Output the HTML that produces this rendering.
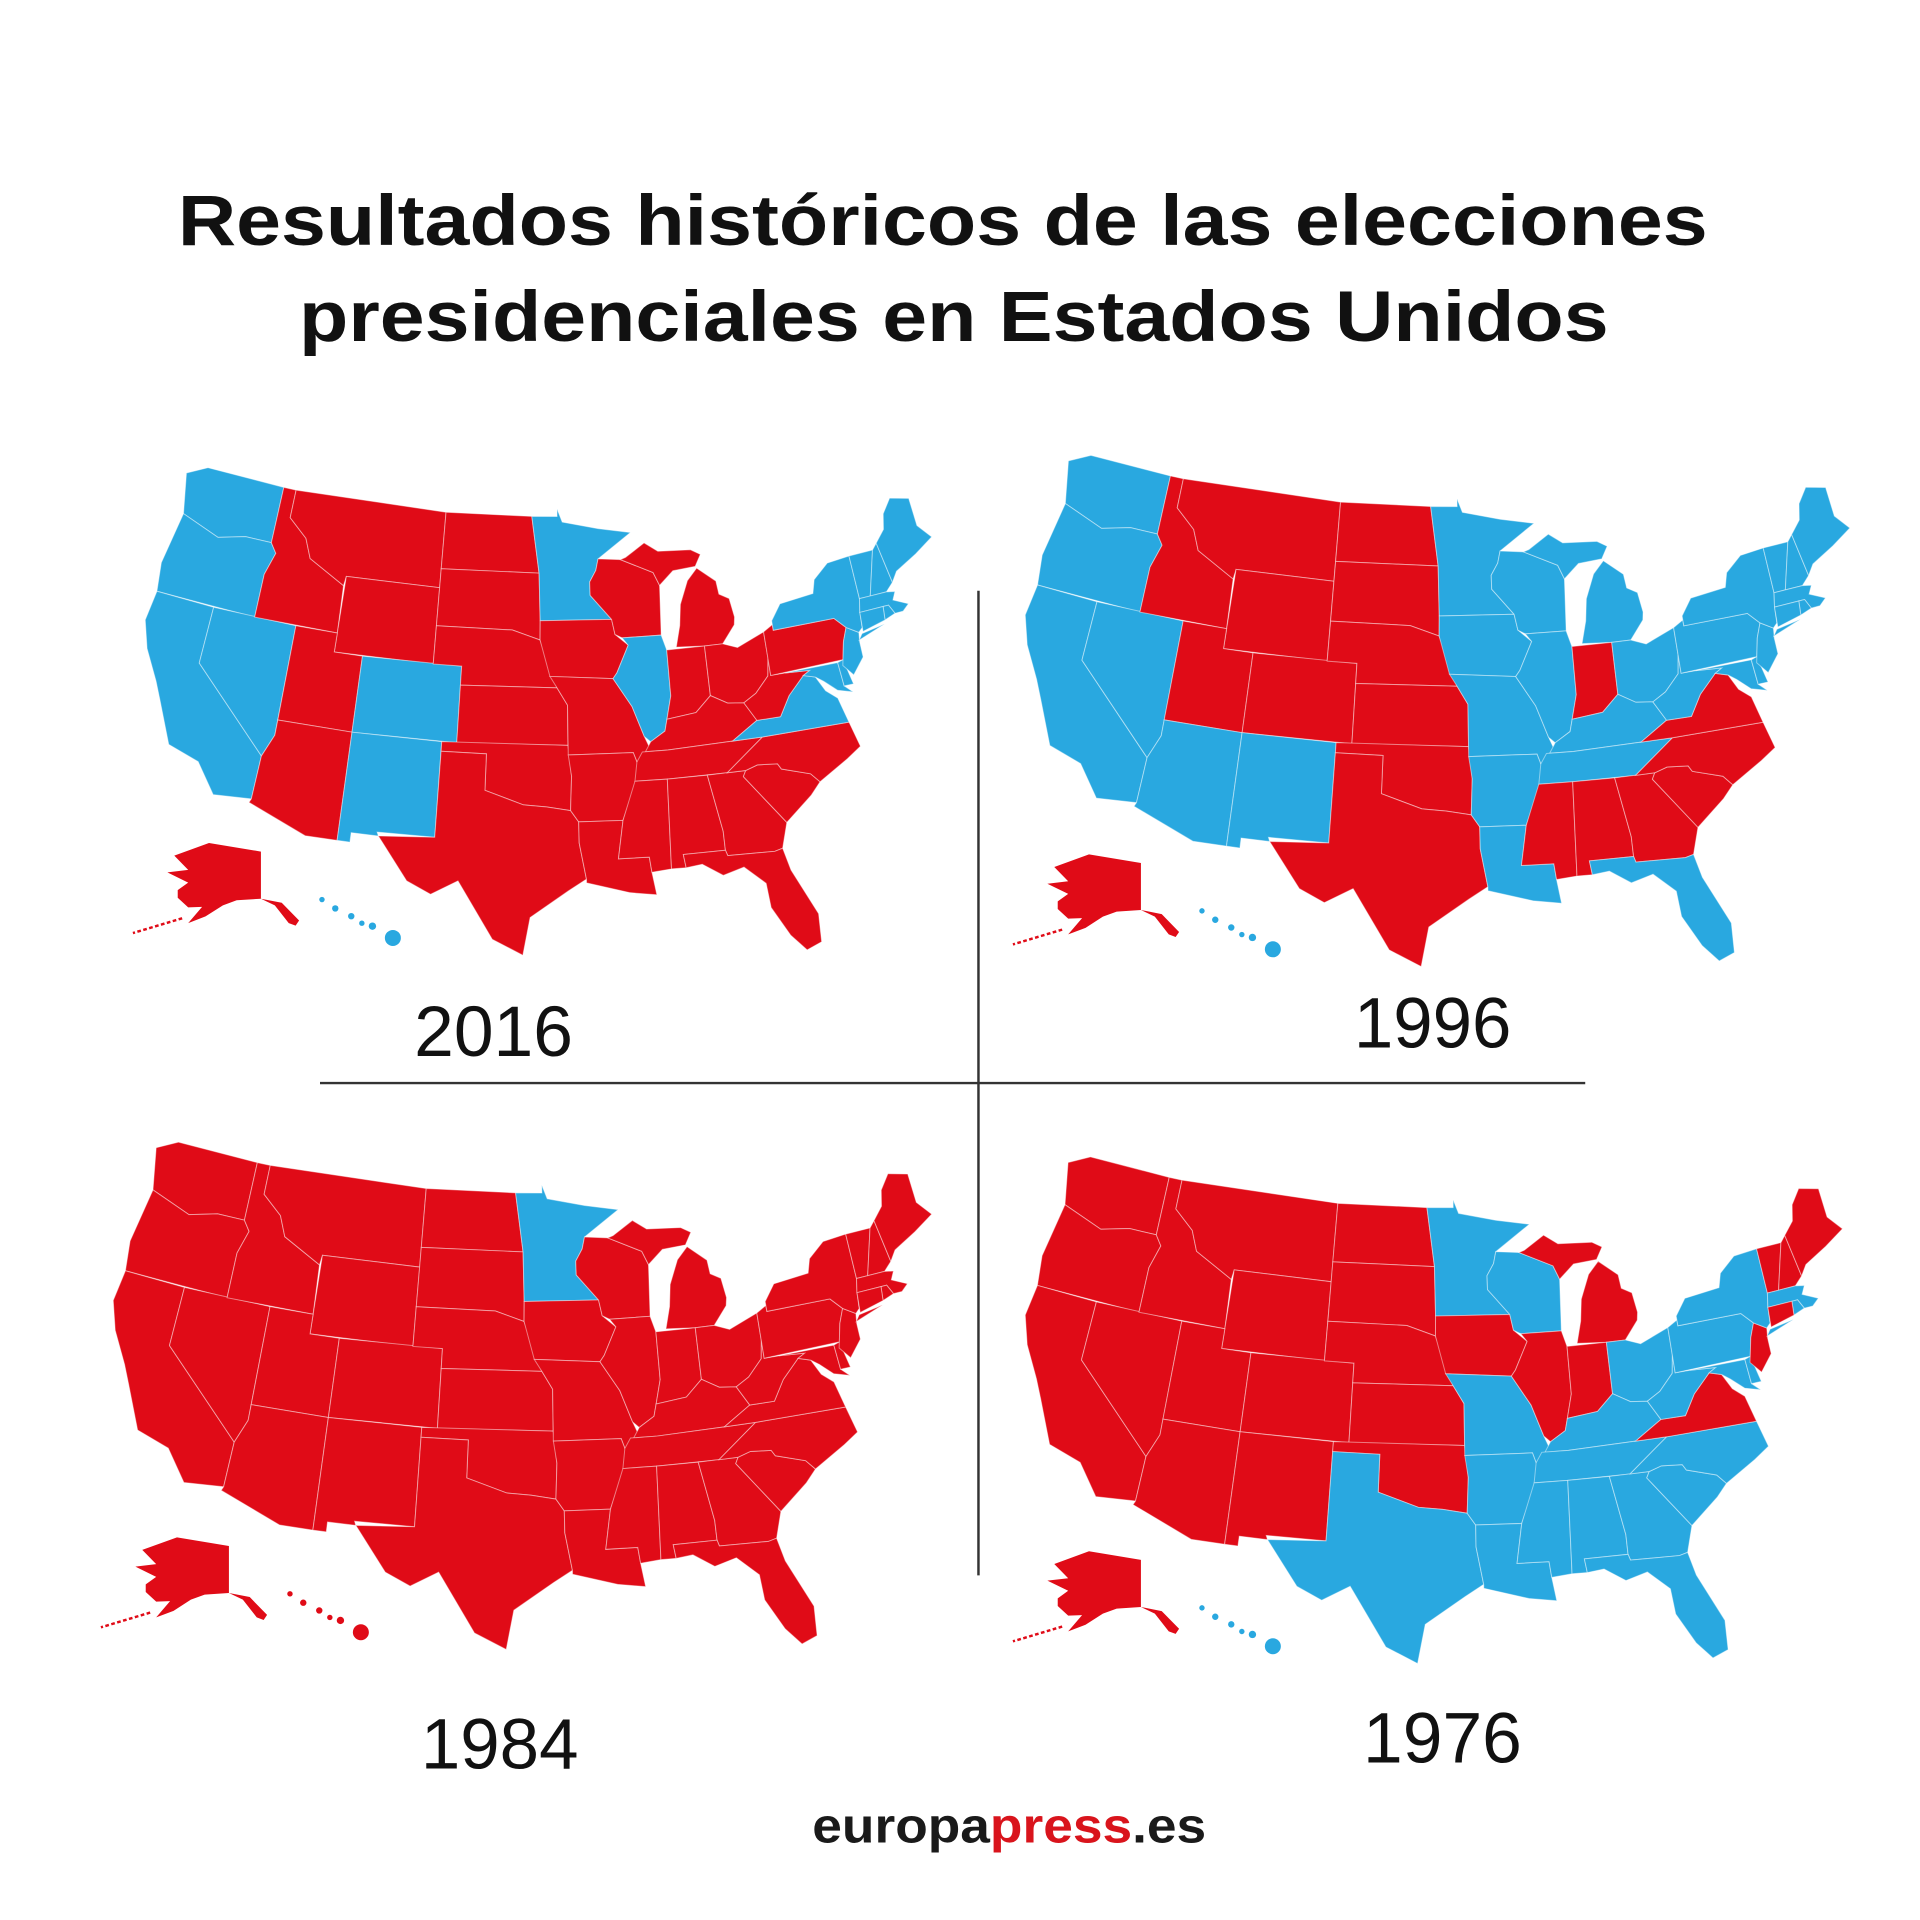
<!DOCTYPE html>
<html><head><meta charset="utf-8"><style>
html,body{margin:0;padding:0;background:#fff;}
svg{display:block;}
</style></head><body>
<svg id="chart" width="1920" height="1920" viewBox="0 0 1560 1560" xmlns="http://www.w3.org/2000/svg">
<rect x="0" y="0" width="1560" height="1560" fill="#fff"/>
<text x="766" y="199" text-anchor="middle" font-family="Liberation Sans, sans-serif" font-weight="bold" font-size="58" fill="#111" textLength="1243" lengthAdjust="spacingAndGlyphs">Resultados históricos de las elecciones</text>
<text x="775" y="277" text-anchor="middle" font-family="Liberation Sans, sans-serif" font-weight="bold" font-size="58" fill="#111" textLength="1064" lengthAdjust="spacingAndGlyphs">presidenciales en Estados Unidos</text>
<line x1="260" y1="880" x2="1288" y2="880" stroke="#333" stroke-width="2"/>
<line x1="795" y1="480" x2="795" y2="1280" stroke="#333" stroke-width="2"/>
<text x="401" y="858" text-anchor="middle" font-family="Liberation Sans, sans-serif" font-size="58" fill="#111" textLength="129" lengthAdjust="spacingAndGlyphs">2016</text>
<text x="1164" y="851" text-anchor="middle" font-family="Liberation Sans, sans-serif" font-size="58" fill="#111" textLength="128" lengthAdjust="spacingAndGlyphs">1996</text>
<text x="406" y="1437" text-anchor="middle" font-family="Liberation Sans, sans-serif" font-size="58" fill="#111" textLength="128" lengthAdjust="spacingAndGlyphs">1984</text>
<text x="1172" y="1432" text-anchor="middle" font-family="Liberation Sans, sans-serif" font-size="58" fill="#111" textLength="129" lengthAdjust="spacingAndGlyphs">1976</text>
<text x="820" y="1497" text-anchor="middle" font-family="Liberation Sans, sans-serif" font-weight="bold" font-size="40" fill="#1a1a1a" textLength="320" lengthAdjust="spacingAndGlyphs">europa<tspan fill="#d9141c">press</tspan>.es</text>
<g id="maps"></g>
</svg>
<script>
var RED = "#e00b17", BLUE = "#29a8e0";
var years = ["2016","1996","1984","1976"];
var demStates2016 = ["WA","OR","CA","NV","CO","NM","MN","IL","VA","MD","DE","NJ","NY","CT","RI","MA","VT","NH","ME","HI"];
var demStates1996 = ["WA","OR","CA","NV","AZ","NM","MN","IA","MO","AR","LA","WI","IL","MI","OH","KY","TN","WV","PA","MD","DE","NJ","NY","CT","RI","MA","VT","NH","ME","FL","HI"];
var demStates1984 = ["MN"];
var demStates1976 = ["MN","WI","TX","AR","LA","MS","AL","GA","FL","SC","NC","TN","KY","MO","WV","OH","PA","NY","MD","DE","MA","RI","HI"];
var demByYear = [demStates2016, demStates1996, demStates1984, demStates1976];

var S = {
WA:[[-124.7,48.4],[-123.2,49],[-117,49],[-117,46],[-119,46],[-121,45.6],[-124,46.3]],
OR:[[-124,46.3],[-121,45.6],[-119,46],[-117,46],[-116.5,45.5],[-117,44.3],[-117,42],[-124.2,42],[-124.5,43.5]],
CA:[[-124.2,42],[-120,42],[-120,39],[-114.6,35],[-114.7,32.7],[-117.1,32.5],[-118.5,34],[-120.6,34.5],[-121.9,36.6],[-122.5,37.5],[-123.7,39],[-124.4,40.4]],
NV:[[-120,42],[-114,42],[-114,36.2],[-114.6,35],[-120,39]],
ID:[[-117,49],[-116,49],[-116,47.5],[-114.5,46.6],[-113.9,45.6],[-111.1,44.5],[-111,42],[-117,42],[-117,44.3],[-116.5,45.5],[-117,46]],
MT:[[-116,49],[-104,49],[-104,45],[-111,45],[-111.1,44.5],[-113.9,45.6],[-114.5,46.6],[-116,47.5]],
WY:[[-111,45],[-104,45],[-104,41],[-111,41]],
UT:[[-114,42],[-111,42],[-111,41],[-109,41],[-109,37],[-114,37]],
AZ:[[-114,37],[-109,37],[-109,31.3],[-111,31.3],[-114.8,32.5],[-114.7,32.7],[-114.6,35],[-114,36.2]],
CO:[[-109,41],[-102,41],[-102,37],[-109,37]],
NM:[[-109,37],[-103,37],[-103,32],[-106.6,32],[-106.5,31.8],[-108.2,31.8],[-108.2,31.3],[-109,31.3]],
ND:[[-104,49],[-97.2,49],[-96.6,46],[-104,46]],
SD:[[-104,46],[-96.6,46],[-96.5,43.5],[-96.5,42.5],[-98.5,43],[-104,43]],
NE:[[-104,43],[-98.5,43],[-96.5,42.5],[-95.3,40],[-102,40],[-102,41],[-104,41]],
KS:[[-102,40],[-95.3,40],[-94.6,39.1],[-94.6,37],[-102,37]],
OK:[[-103,37],[-94.6,37],[-94.4,35.4],[-94.5,33.6],[-96,33.8],[-97.5,33.9],[-100,34.6],[-100,36.5],[-103,36.5]],
TX:[[-103,36.5],[-100,36.5],[-100,34.6],[-97.5,33.9],[-96,33.8],[-94.5,33.6],[-94,33],[-94,31.9],[-93.6,30],[-94.7,29.4],[-97,28],[-97.4,26],[-99.2,26.8],[-101.4,29.8],[-103,29],[-104.5,29.6],[-106.5,31.8],[-103,32]],
MN:[[-97.2,49],[-95.2,49],[-95.2,49.4],[-94.8,48.7],[-92,48.3],[-89.5,48],[-92.1,46.7],[-92.3,46.1],[-92.8,45.5],[-92.8,44.8],[-91.3,43.5],[-96.5,43.5],[-96.6,46]],
IA:[[-96.5,43.5],[-91.3,43.5],[-91.1,42.7],[-90.2,42.1],[-91.1,40.7],[-91.4,40.4],[-95.8,40.6],[-96.5,42.5]],
MO:[[-95.8,40.6],[-91.4,40.4],[-90.2,38.9],[-89.5,37.3],[-89.1,36.5],[-90.1,36],[-90.3,36.5],[-94.6,36.5],[-94.6,39.1],[-95.3,40]],
AR:[[-94.6,36.5],[-90.3,36.5],[-90.1,36],[-89.7,36],[-91.2,33],[-94,33],[-94.5,33.6],[-94.4,35.4]],
LA:[[-94,33],[-91.2,33],[-91.6,31],[-89.7,31],[-89.6,30.2],[-89.4,29],[-91,29.2],[-93.6,29.8],[-93.6,30],[-94,31.9]],
WI:[[-92.1,46.7],[-90.4,46.6],[-88,45.8],[-87.6,45.1],[-87.8,42.5],[-90.6,42.5],[-91.1,42.7],[-91.3,43.5],[-92.8,44.8],[-92.8,45.5],[-92.3,46.1]],
IL:[[-90.6,42.5],[-87.8,42.5],[-87.5,41.7],[-87.5,39.3],[-87.9,38.1],[-88.1,37.5],[-89.1,37],[-89.5,37.3],[-90.2,38.9],[-91.4,40.4],[-91.1,40.7],[-90.2,42.1]],
MI:[[-86.8,41.8],[-84.8,41.7],[-83.5,41.7],[-82.5,42.6],[-82.4,43],[-82.6,44],[-83.3,44.3],[-83.4,45],[-84.7,45.8],[-85.5,45.2],[-86.2,44],[-86.4,42.9]],
MIU:[[-90.4,46.6],[-88,45.8],[-87.6,45.1],[-86.5,45.8],[-84.8,45.9],[-84.3,46.5],[-85,46.8],[-87.5,46.9],[-88.5,47.4],[-90,46.7]],
IN:[[-87.5,41.7],[-84.8,41.7],[-84.8,39.1],[-85.9,38.3],[-87.9,38.1],[-87.5,39.3]],
OH:[[-84.8,41.7],[-83.5,41.7],[-82.5,41.4],[-80.5,42],[-80.5,40.6],[-80.7,39.7],[-81.7,38.9],[-82.6,38.5],[-83.7,38.6],[-84.8,39.1]],
KY:[[-89.5,36.5],[-88,36.5],[-83.7,36.6],[-81.9,37.5],[-82.6,38.5],[-83.7,38.6],[-84.8,39.1],[-85.9,38.3],[-87.9,38.1],[-88.1,37.5],[-89.1,37]],
TN:[[-90.3,35],[-90.1,36],[-89.7,36.5],[-88,36.5],[-83.7,36.6],[-81.7,36.6],[-84.3,35],[-88.2,35]],
MS:[[-91.2,33],[-90.3,35],[-88.2,35],[-88.4,30.3],[-89.6,30.2],[-89.7,31],[-91.6,31]],
AL:[[-88.2,35],[-85.6,35],[-85,32],[-85,31],[-87.6,31],[-87.5,30.3],[-88.4,30.3]],
GA:[[-85.6,35],[-83.1,35],[-83.3,34.7],[-81,32],[-81.5,30.7],[-82,30.6],[-84.9,30.7],[-85,31],[-85,32]],
FL:[[-87.6,31],[-85,31],[-84.9,30.7],[-82,30.6],[-81.5,30.7],[-81.2,29.5],[-80,27],[-80.1,25.5],[-81,25.2],[-81.8,26.1],[-82.7,27.7],[-82.8,29],[-84,30],[-85.3,29.7],[-86.5,30.4],[-87.5,30.3]],
SC:[[-83.3,34.7],[-83.1,35],[-82.3,35.2],[-81,35.1],[-80.8,34.8],[-79,34.3],[-78.5,33.8],[-79.2,33.2],[-81,32]],
NC:[[-84.3,35],[-81.7,36.6],[-75.9,36.55],[-75.5,35.2],[-76.5,34.7],[-78.5,33.8],[-79,34.3],[-80.8,34.8],[-81,35.1],[-82.3,35.2],[-83.1,35]],
VA:[[-83.7,36.6],[-81.7,36.6],[-75.9,36.55],[-76.3,37.9],[-77,38.4],[-77.5,39.2],[-78.3,39.4],[-79.5,38.5],[-80.3,37.5],[-81.9,37.5]],
WV:[[-81.9,37.5],[-80.3,37.5],[-79.5,38.5],[-78.3,39.4],[-77.8,39.6],[-79.5,39.7],[-80.5,39.7],[-80.5,40.6],[-80.7,39.7],[-81.7,38.9],[-82.6,38.5]],
MD:[[-79.5,39.7],[-75.8,39.7],[-75.7,38.45],[-75.2,38.05],[-76.2,38.3],[-77,38.9],[-77.5,39.2],[-78.3,39.4],[-77.8,39.6]],
DE:[[-75.8,39.7],[-75.4,39.8],[-75.05,38.45],[-75.7,38.45]],
PA:[[-80.5,42],[-79.8,42.3],[-79.8,42],[-75.4,42],[-74.7,41.4],[-75.1,40.7],[-75.4,39.8],[-80.5,39.7]],
NJ:[[-74.7,41.4],[-73.9,41],[-74,40.5],[-74,39.7],[-74.9,38.9],[-75.5,39.5],[-75.1,40.7]],
NY:[[-79.8,42],[-79.8,42.5],[-79,43.3],[-76.5,43.5],[-76.2,44.2],[-75,44.9],[-73.3,45],[-73.3,42.7],[-73.5,42],[-73.6,41.2],[-73.9,41],[-74.7,41.4],[-75.4,42]],
NYL:[[-74,40.6],[-72,41.1],[-73.7,40.9]],
VT:[[-73.3,45],[-71.5,45],[-72.5,42.7],[-73.3,42.7]],
NH:[[-71.5,45],[-71.1,45.3],[-70.7,43.1],[-71.3,42.7],[-72.5,42.7]],
ME:[[-71.1,45.3],[-70.3,45.9],[-70,46.7],[-69.2,47.4],[-67.8,47.1],[-67.8,45.6],[-67,44.8],[-68.5,44.2],[-70.2,43.6],[-70.7,43.1]],
MA:[[-73.5,42],[-73.3,42.7],[-71.3,42.7],[-70.7,42.6],[-71,42.2],[-70,41.8],[-70.5,41.5],[-71.1,41.5],[-71.4,42],[-71.8,42]],
RI:[[-71.8,42],[-71.4,42],[-71.1,41.5],[-71.9,41.3]],
CT:[[-73.5,42],[-71.8,42],[-71.9,41.3],[-73.6,41]]
};
var alias = {MIU:"MI", NYL:"NY"};
var AK = [[-141,69.6],[-156,71.3],[-166,68.8],[-162,66],[-168,65.5],[-162,63.5],[-165,62],[-165,60.5],[-162,58.6],[-158,58.7],[-162,55.5],[-157,56.8],[-152,59],[-148,60],[-141,60.3],[-137,59],[-133,55.5],[-131,55],[-130,56],[-135,59.5],[-141,60.3]];
var HIislands = [[0.05,0.1,0.05],[0.2,0.25,0.06],[0.38,0.38,0.06],[0.5,0.5,0.05],[0.62,0.55,0.07],[0.85,0.75,0.15]];

var panels = [{left:118,top:380,width:639},{left:833,top:370,width:670},{left:92,top:928,width:665},{left:833,top:940,width:664}];

var rad = Math.PI/180, p1=29.5*rad, p2=45.5*rad, p0=37.5*rad, l0=-96*rad;
var n=(Math.sin(p1)+Math.sin(p2))/2, C=Math.cos(p1)*Math.cos(p1)+2*n*Math.sin(p1), rho0=Math.sqrt(C-2*n*Math.sin(p0))/n;
function albers(lon,lat){var rho=Math.sqrt(C-2*n*Math.sin(lat*rad))/n, th=n*(lon*rad-l0);return [rho*Math.sin(th), -(rho0-rho*Math.cos(th))];}
var minX=1e9,maxX=-1e9,minY=1e9,maxY=-1e9;
for (var k in S){S[k].forEach(function(p){var q=albers(p[0],p[1]);minX=Math.min(minX,q[0]);maxX=Math.max(maxX,q[0]);minY=Math.min(minY,q[1]);maxY=Math.max(maxY,q[1]);});}

var g=document.getElementById('maps'), NS="http://www.w3.org/2000/svg";
panels.forEach(function(pn,i){
  var sc=pn.width/(maxX-minX), dem=demByYear[i];
  var bottom=pn.top+(maxY-minY)*sc;
  var grp=document.createElementNS(NS,'g');
  
  
  g.appendChild(grp);
  for (var k in S){
    var st=alias[k]||k;
    var d=S[k].map(function(p,j){var q=albers(p[0],p[1]);return (j?'L':'M')+(pn.left+(q[0]-minX)*sc).toFixed(1)+','+(pn.top+(q[1]-minY)*sc).toFixed(1);}).join('')+'Z';
    var path=document.createElementNS(NS,'path');
    path.setAttribute('d',d);
    path.setAttribute('fill',dem.indexOf(st)>=0?BLUE:RED);
    path.setAttribute('stroke','rgba(255,255,255,0.45)');
    path.setAttribute('stroke-width','0.8');
    
    
    grp.appendChild(path);
  }
  // Alaska inset
  var ax0=pn.left+18, ax1=pn.left+125, ay0=bottom-92, ay1=bottom-22;
  var ad=AK.map(function(p,j){var x=ax0+(p[0]+168)/38*(ax1-ax0), y=ay0+(71.5-p[1])/17*(ay1-ay0);return (j?'L':'M')+x.toFixed(1)+','+y.toFixed(1);}).join('')+'Z';
  var ak=document.createElementNS(NS,'path');
  ak.setAttribute('d',ad);
  ak.setAttribute('fill',dem.indexOf('AK')>=0?BLUE:RED);
  
  
  grp.appendChild(ak);
  var al=document.createElementNS(NS,'path');
  al.setAttribute('d','M'+(ax0+12)+','+(ay1-8)+' L'+(ax0-28)+','+(ay1+4));
  al.setAttribute('stroke',dem.indexOf('AK')>=0?BLUE:RED);
  al.setAttribute('stroke-width','2');
  al.setAttribute('stroke-dasharray','3 2');
  
  
  grp.appendChild(al);
  // Hawaii inset
  var hx0=pn.left+140, hw=72, hy0=bottom-50, hh=48;
  HIislands.forEach(function(c,j){
    var e=document.createElementNS(NS,'circle');
    e.setAttribute('cx',(hx0+c[0]*hw).toFixed(1));
    e.setAttribute('cy',(hy0+c[1]*hh).toFixed(1));
    e.setAttribute('r',(c[2]*hh*0.9).toFixed(1));
    e.setAttribute('fill',dem.indexOf('HI')>=0?BLUE:RED);
    
    
    grp.appendChild(e);
  });
});
</script>
</body></html>
